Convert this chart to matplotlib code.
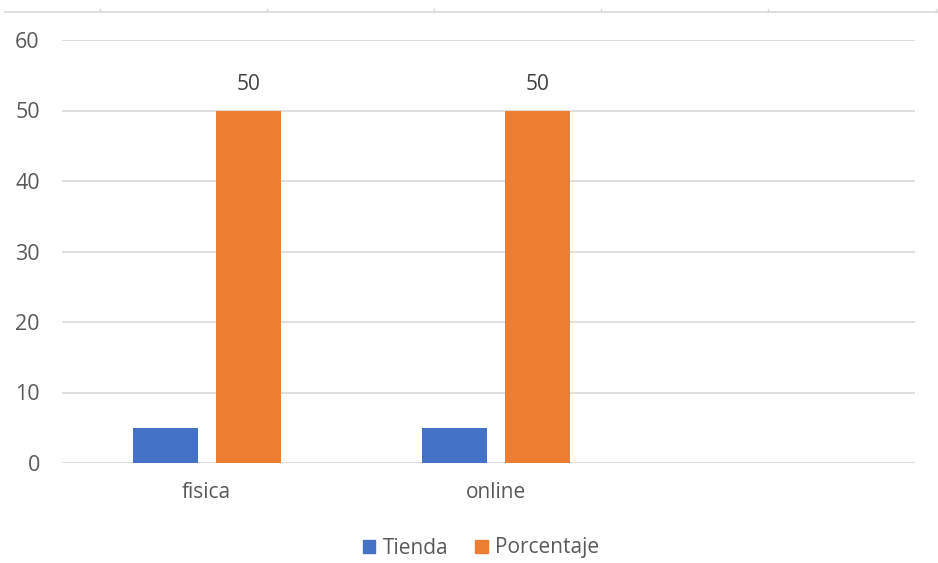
import matplotlib
matplotlib.use("Agg")
import matplotlib.pyplot as plt
from matplotlib.lines import Line2D
from matplotlib.patches import Patch
import numpy as np

categories = ["fisica", "online"]
tienda = [5, 5]
porcentaje = [50, 50]
yticks = [0, 10, 20, 30, 40, 50, 60]

blue = "#4472C4"
orange = "#ED7D31"
grey = "#595959"

plt.rcParams['font.family'] = ['Open Sans', 'DejaVu Sans']

W, H = 938, 563
fig = plt.figure(figsize=(W / 100, H / 100), dpi=100)
ax = fig.add_axes([62 / W, 1 - 463 / H, (915 - 62) / W, (463 - 40) / H])

x = np.arange(len(categories))
w = 0.225
b1 = ax.bar(x - 0.143, tienda, w, color=blue, zorder=3)
b2 = ax.bar(x + 0.145, porcentaje, w, color=orange, zorder=3)
for rect, v in zip(b2, porcentaje):
    ax.text(rect.get_x() + rect.get_width() / 2, v + 2.2, str(v),
            ha="center", va="bottom", fontsize=15, color="#404040")

ax.set_xlim(-0.5, 2.45)
ax.set_ylim(0, 60)
ax.set_yticks(yticks)
ax.set_yticklabels([str(t) for t in yticks], fontsize=15.5, color=grey)
ax.set_xticks(x)
ax.set_xticklabels(categories, fontsize=15, color=grey)
ax.tick_params(axis="both", length=0)
ax.tick_params(axis="y", pad=16)
ax.tick_params(axis="x", pad=14)
ax.grid(axis="y", color="#D9D9D9", linewidth=1.2, zorder=0)
for s in ax.spines.values():
    s.set_visible(False)

handles = [Patch(color=blue, label="Tienda"), Patch(color=orange, label="Porcentaje")]
fig.legend(handles=handles, loc="center", bbox_to_anchor=(481 / W, 1 - 548 / H),
           ncol=2, frameon=False, fontsize=15, handlelength=0.6, handleheight=0.6,
           handletextpad=0.35, columnspacing=1.3, labelcolor=grey)

# remnant of the chart above
ly = 1 - 12 / H
fig.add_artist(Line2D([5 / W, 1], [ly, ly], color="#D9D9D9", linewidth=1.2))
for tx in [100, 267, 434, 601, 768, 936]:
    fig.add_artist(Line2D([tx / W, tx / W], [ly, ly + 3 / H], color="#D9D9D9", linewidth=1))

fig.savefig("out.png", dpi=100, facecolor="white")
